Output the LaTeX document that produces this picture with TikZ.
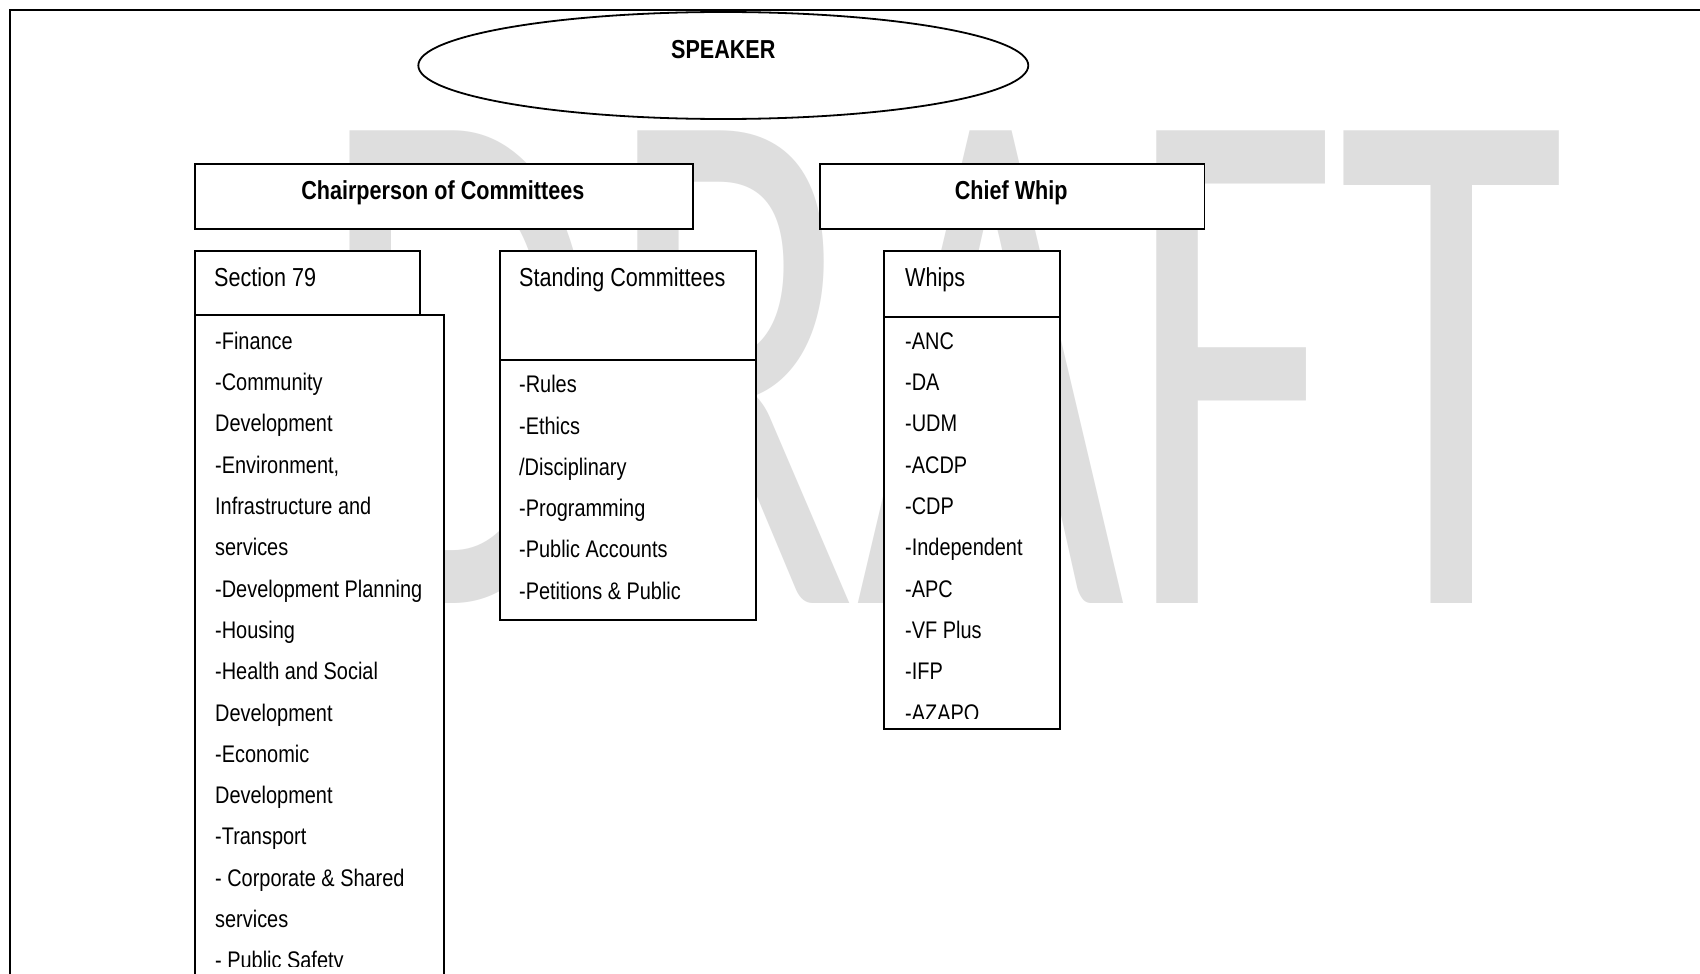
\documentclass[tikz,border=0pt]{standalone}
\usepackage{fontspec}
\usepackage{graphicx}
\setmainfont{Liberation Sans}[FakeStretch=0.83]
\newfontfamily\wmfont{Carlito}
\usetikzlibrary{shapes.geometric}
\definecolor{wmgray}{RGB}{222,222,222}

\begin{document}
\begin{tikzpicture}[x=1pt,y=-1pt,
  box/.style={draw, line width=1.8pt, fill=white, rectangle, inner sep=0pt, anchor=north west},
  headtxt/.style={font=\fontsize{26}{30}\selectfont, anchor=base west, inner sep=0pt},
  boldtxt/.style={font=\bfseries\fontsize{26}{30}\selectfont, anchor=base, inner sep=0pt},
  itemtxt/.style={font=\fontsize{24}{28}\selectfont, anchor=base west, inner sep=0pt}]

\useasboundingbox (0,0) rectangle (1700,974);
\fill[white] (0,0) rectangle (1700,974);

% watermark
\node[inner sep=0pt, anchor=south west, text=wmgray] (wm) at (318.6,604)
  {\resizebox{1242pt}{472pt}{\wmfont DRAFT}};

% page frame
\draw[line width=2pt] (9.5,1000) -- (9.5,10) -- (1710,10);

% speaker
\node[box, ellipse, minimum width=610pt, minimum height=107pt, anchor=center] (speaker) at (723.3,65.5) {};
\node[boldtxt] (speakert) at (723.3,59) {SPEAKER};

% second level
\node[box, minimum width=497.7pt, minimum height=65pt] (chair) at (194,163.3) {};
\node[boldtxt] (chairt) at (442.8,199) {Chairperson of Committees};
\node[box, minimum width=384.5pt, minimum height=65pt] (chief) at (819,163.3) {};
\node[boldtxt] (chieft) at (1011.2,199) {Chief Whip};

% Section 79
\node[box, minimum width=249.3pt, minimum height=690pt] (seclist) at (194,314.3) {};
\node[box, minimum width=225pt, minimum height=64.3pt] (sechead) at (194,250) {};
\node[headtxt] (sect) at (214,286) {Section 79};
\begin{scope}
  \clip (194,314) rectangle (443,966.5);
  \foreach \t [count=\i from 0] in {-Finance, -Community, Development, {-Environment,},
      Infrastructure and, services, -Development Planning, -Housing, -Health and Social,
      Development, -Economic, Development, -Transport, - Corporate \& Shared, services,
      - Public Safety}
    \node[itemtxt] (s\i) at (215,{349.3+41.3*\i}) {\t};
\end{scope}

% Standing Committees
\node[box, minimum width=256pt, minimum height=109pt] (stdhead) at (499.3,250) {};
\node[box, minimum width=256pt, minimum height=260pt] (stdlist) at (499.3,359) {};
\node[headtxt] (stdt) at (519,286) {Standing Committees};
\foreach \t [count=\i from 0] in {-Rules, -Ethics, /Disciplinary, -Programming,
    -Public Accounts, -Petitions \& Public}
  \node[itemtxt] (c\i) at (519,{392.7+41.3*\i}) {\t};

% Whips
\node[box, minimum width=175.7pt, minimum height=65.7pt] (whiphead) at (883.3,250) {};
\node[box, minimum width=175.7pt, minimum height=412.3pt] (whiplist) at (883.3,315.7) {};
\node[headtxt] (whipt) at (905,286) {Whips};
\begin{scope}
  \clip (883,316) rectangle (1059,718);
  \foreach \t [count=\i from 0] in {-ANC, -DA, -UDM, -ACDP, -CDP, -Independent,
      -APC, -VF Plus, -IFP, -AZAPO}
    \node[itemtxt] (w\i) at (905,{349.3+41.3*\i}) {\t};
\end{scope}
\end{tikzpicture}
\end{document}
